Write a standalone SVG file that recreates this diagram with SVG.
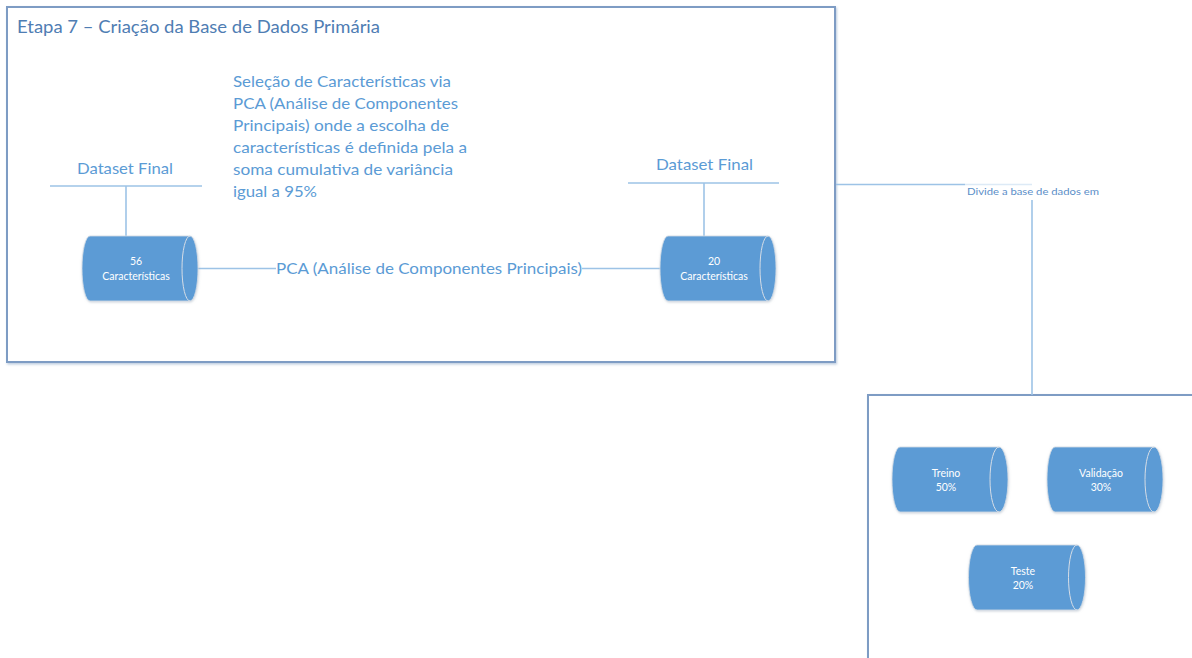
<svg xmlns="http://www.w3.org/2000/svg" width="1192" height="658" viewBox="0 0 1192 658">
  <defs>
    <filter id="shadow" x="-5%" y="-5%" width="110%" height="110%">
      <feDropShadow dx="1" dy="1.5" stdDeviation="1.2" flood-color="#6f8fb8" flood-opacity="0.45"/>
    </filter>
    <filter id="cylShadow" x="-10%" y="-10%" width="120%" height="125%">
      <feDropShadow dx="0.5" dy="1" stdDeviation="1" flood-color="#9aa8b8" flood-opacity="0.5"/>
    </filter>
  </defs>
  <style>
    .frame { fill: #ffffff; stroke: #7e9cc4; stroke-width: 2; }
    .conn { fill: none; stroke: #9dc3e6; stroke-width: 1.6; }
    .cyl { fill: #5b9bd5; stroke: #d6dde6; stroke-width: 0.8; }
    .cylInner { fill: none; stroke: #d6dde6; stroke-width: 1; }
    .title { font-family: Lato, "Open Sans", sans-serif; font-size: 18px; fill: #4f7db3; }
    .label { font-family: Lato, "Open Sans", sans-serif; font-size: 16px; fill: #5b9bd5; }
    .small { font-family: Lato, "Open Sans", sans-serif; font-size: 10px; fill: #5b8ec8; }
    .cylText { font-family: Lato, "Open Sans", sans-serif; font-size: 10.5px; fill: #ffffff; text-anchor: middle; }
  </style>

  <!-- stage frames -->
  <g id="stage7">
    <rect class="frame" x="7" y="7" width="828" height="355" filter="url(#shadow)"/>
    <text class="title" x="17" y="33" textLength="363" lengthAdjust="spacingAndGlyphs">Etapa 7 – Criação da Base de Dados Primária</text>
  </g>
  <g id="splitFrame">
    <rect class="frame" x="868" y="395" width="340" height="290" filter="url(#shadow)"/>
  </g>

  <!-- connectors -->
  <g id="connectors">
    <line class="conn" x1="50" y1="186" x2="202" y2="186"/>
    <line class="conn" x1="126" y1="186" x2="126" y2="237"/>
    <line class="conn" x1="628" y1="183" x2="779" y2="183"/>
    <line class="conn" x1="704" y1="183" x2="704" y2="237"/>
    <line class="conn" x1="198" y1="268.5" x2="276" y2="268.5"/>
    <line class="conn" x1="582" y1="268.5" x2="661" y2="268.5"/>
    <line class="conn" x1="836" y1="184.5" x2="965" y2="184.5"/>
    <line class="conn" x1="965" y1="184.5" x2="1032" y2="184.5" stroke-opacity="0.35"/>
    <line class="conn" x1="1032" y1="200" x2="1032" y2="395"/>
  </g>

  <!-- connector labels -->
  <g id="connectorLabels">
    <text class="label" x="276" y="274" textLength="306" lengthAdjust="spacingAndGlyphs">PCA (Análise de Componentes Principais)</text>
    <text class="small" x="967" y="195" textLength="132" lengthAdjust="spacingAndGlyphs">Divide a base de dados em</text>
  </g>

  <!-- annotations -->
  <g id="pcaNote" class="label">
    <text x="233" y="87" textLength="218" lengthAdjust="spacingAndGlyphs">Seleção de Características via</text>
    <text x="233" y="109" textLength="225" lengthAdjust="spacingAndGlyphs">PCA (Análise de Componentes</text>
    <text x="233" y="131" textLength="216" lengthAdjust="spacingAndGlyphs">Principais) onde a escolha de</text>
    <text x="233" y="153" textLength="234" lengthAdjust="spacingAndGlyphs">características é definida pela a</text>
    <text x="233" y="175" textLength="220" lengthAdjust="spacingAndGlyphs">soma cumulativa de variância</text>
    <text x="233" y="197" textLength="84" lengthAdjust="spacingAndGlyphs">igual a 95%</text>
  </g>

  <g id="datasetLabelLeft">
    <text class="label" x="77" y="174" textLength="96" lengthAdjust="spacingAndGlyphs">Dataset Final</text>
  </g>
  <g id="datasetLabelRight">
    <text class="label" x="656" y="170" textLength="97" lengthAdjust="spacingAndGlyphs">Dataset Final</text>
  </g>

  <!-- cylinders -->
  <g id="dataset56">
    <path class="cyl" filter="url(#cylShadow)" d="M90,236 L190,236 A8,32.5 0 0 1 190,301 L90,301 A8,32.5 0 0 1 90,236 Z"/>
    <path class="cylInner" d="M190,236 A8,32.5 0 0 0 190,301"/>
    <text class="cylText" x="136" y="265">56</text>
    <text class="cylText" x="136" y="280">Características</text>
  </g>
  <g id="dataset20">
    <path class="cyl" filter="url(#cylShadow)" d="M668,236 L768,236 A8,32.5 0 0 1 768,301 L668,301 A8,32.5 0 0 1 668,236 Z"/>
    <path class="cylInner" d="M768,236 A8,32.5 0 0 0 768,301"/>
    <text class="cylText" x="714" y="265">20</text>
    <text class="cylText" x="714" y="280">Características</text>
  </g>
  <g id="treino">
    <path class="cyl" filter="url(#cylShadow)" d="M900,447 L999,447 A9,32.5 0 0 1 999,512 L900,512 A8,32.5 0 0 1 900,447 Z"/>
    <path class="cylInner" d="M999,447 A9,32.5 0 0 0 999,512"/>
    <text class="cylText" x="946" y="477">Treino</text>
    <text class="cylText" x="946" y="491">50%</text>
  </g>
  <g id="validacao">
    <path class="cyl" filter="url(#cylShadow)" d="M1055,447 L1154,447 A9,32.5 0 0 1 1154,512 L1055,512 A8,32.5 0 0 1 1055,447 Z"/>
    <path class="cylInner" d="M1154,447 A9,32.5 0 0 0 1154,512"/>
    <text class="cylText" x="1101" y="477">Validação</text>
    <text class="cylText" x="1101" y="491">30%</text>
  </g>
  <g id="teste">
    <path class="cyl" filter="url(#cylShadow)" d="M977,545 L1077,545 A8.5,32.5 0 0 1 1077,610 L977,610 A8.5,32.5 0 0 1 977,545 Z"/>
    <path class="cylInner" d="M1077,545 A8.5,32.5 0 0 0 1077,610"/>
    <text class="cylText" x="1023" y="575">Teste</text>
    <text class="cylText" x="1023" y="589">20%</text>
  </g>
</svg>
